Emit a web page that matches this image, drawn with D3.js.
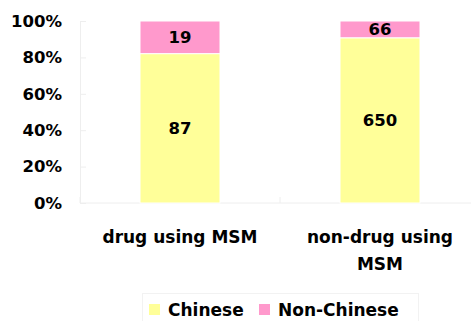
<!DOCTYPE html>
<html>
<head>
<meta charset="utf-8">
<script src="https://cdn.jsdelivr.net/npm/d3@7"></script>
<style>
  html, body { margin: 0; padding: 0; background: #fff; }
  svg text { font-family: "DejaVu Sans", sans-serif; font-weight: bold; fill: #000; }
</style>
</head>
<body>
<svg id="chart" width="471" height="321"></svg>
<script>
// Groups and counts per origin
const categories = [["drug using MSM"], ["non-drug using", "MSM"]];
const seriesNames = ["Chinese", "Non-Chinese"];
const chinese = [87, 650];
const nonChinese = [19, 66];
const colors = ["#FFFF99", "#FF99CC"];
const yTicks = [0, 0.2, 0.4, 0.6, 0.8, 1.0];

const svg = d3.select("#chart");
const margin = { left: 80, top: 21, bottom: 203 };

const keys = categories.map(c => c.join(" "));
const rows = keys.map((k, i) => ({ key: k, Chinese: chinese[i], "Non-Chinese": nonChinese[i] }));

const stack = d3.stack().keys(seriesNames).offset(d3.stackOffsetExpand);
const layers = stack(rows);

const x = d3.scaleBand().domain(keys).range([80, 480]).paddingInner(0.6).paddingOuter(0.3);
const y = d3.scaleLinear().domain([0, 1]).range([margin.bottom, margin.top]);

// y axis: faint line with short inward ticks
const yAxis = svg.append("g").attr("transform", `translate(${margin.left},0)`)
  .call(d3.axisLeft(y).tickValues(yTicks).tickSize(-6).tickFormat(d3.format(".0%")).tickPadding(18));
yAxis.select(".domain").attr("stroke", "#eeeeee");
yAxis.selectAll(".tick line").attr("stroke", "#eeeeee");
yAxis.selectAll(".tick text").attr("font-size", 16.5).attr("fill", "#000");

// x axis baseline with category boundary ticks
const xb = svg.append("g");
xb.append("line").attr("x1", 80).attr("x2", 480).attr("y1", margin.bottom).attr("y2", margin.bottom)
  .attr("stroke", "#eeeeee");
const bounds = [80, 280, 480];
xb.selectAll("line.sep").data(bounds).join("line").attr("class", "sep")
  .attr("x1", d => d).attr("x2", d => d).attr("y1", margin.bottom).attr("y2", margin.bottom - 6)
  .attr("stroke", "#eeeeee");

// stacked bars
const g = svg.append("g");
layers.forEach((layer, li) => {
  g.selectAll(null).data(layer).join("rect")
    .attr("x", d => x(d.data.key))
    .attr("width", x.bandwidth())
    .attr("y", d => y(d[1]))
    .attr("height", d => y(d[0]) - y(d[1]))
    .attr("fill", colors[li])
    .attr("stroke", "#fff").attr("stroke-width", 1);
  g.selectAll(null).data(layer).join("text")
    .attr("x", d => x(d.data.key) + x.bandwidth() / 2)
    .attr("y", d => (y(d[0]) + y(d[1])) / 2)
    .attr("dy", "0.36em")
    .attr("text-anchor", "middle")
    .attr("font-size", 16.5)
    .text(d => d.data[layer.key]);
});

// category labels
const cl = svg.append("g");
categories.forEach((lines, i) => {
  const cx = x(keys[i]) + x.bandwidth() / 2;
  const t = cl.append("text")
    .attr("x", cx)
    .attr("y", 243)
    .attr("text-anchor", "middle")
    .attr("font-size", 17);
  lines.forEach((ln, j) => t.append("tspan").attr("x", cx).attr("dy", j ? 27 : 0).text(ln));
});

// legend
const lg = svg.append("g");
lg.append("rect").attr("x", 142.5).attr("y", 293.5).attr("width", 276).attr("height", 30)
  .attr("fill", "none").attr("stroke", "#f2f2f2");
const legendX = [149, 259];
seriesNames.forEach((s, i) => {
  lg.append("rect").attr("x", legendX[i]).attr("y", 304).attr("width", 11).attr("height", 11).attr("fill", colors[i]);
  lg.append("text").attr("x", legendX[i] + 19).attr("y", 316).attr("font-size", 17).text(s);
});
</script>
</body>
</html>
